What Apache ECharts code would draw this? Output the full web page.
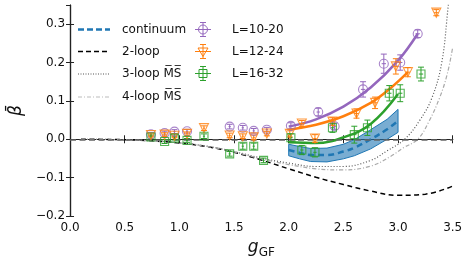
<!DOCTYPE html>
<html><head><meta charset="utf-8">
<script src="https://cdn.jsdelivr.net/npm/echarts@6/dist/echarts.min.js"></script>
<style>html,body{margin:0;padding:0;background:#fff}#c{width:469px;height:264px}</style>
</head><body><div id="c"></div>
<script>
// ---------- data ----------
const xTickLabels = ['0.0','0.5','1.0','1.5','2.0','2.5','3.0','3.5'];
const yTickLabels = ['\u22120.2','\u22120.1','0.0','0.1','0.2','0.3'];

const loop2G = [0.1, 0.25, 0.5, 0.75, 1.0, 1.25, 1.5, 1.75, 2.0, 2.25, 2.5, 2.75, 3.0, 3.25, 3.5];
const loop2B = [0.0, -0.0002, -0.0012, -0.004, -0.0095, -0.019, -0.034, -0.054, -0.077, -0.099, -0.118, -0.135, -0.146, -0.143, -0.122];

const loop3G = [0.1, 0.25, 0.5, 0.75, 1.0, 1.25, 1.5, 1.75, 2.0, 2.25, 2.5, 2.75, 2.9, 3.06, 3.2, 3.31, 3.4, 3.46, 3.5];
const loop3B = [0.0, -0.0002, -0.0012, -0.004, -0.0093, -0.018, -0.032, -0.049, -0.062, -0.071, -0.071, -0.055, -0.030, 0.0, 0.05, 0.108, 0.20, 0.35, 0.45];

const loop4G = [0.1, 0.25, 0.5, 0.75, 1.0, 1.25, 1.5, 1.75, 2.0, 2.25, 2.5, 2.75, 2.93, 3.05, 3.18, 3.28, 3.38, 3.45, 3.5];
const loop4B = [0.0, -0.0002, -0.0012, -0.004, -0.0094, -0.0185, -0.033, -0.051, -0.066, -0.077, -0.080, -0.070, -0.045, -0.022, 0.0, 0.045, 0.108, 0.17, 0.24];

const contG   = [2.0, 2.1, 2.2, 2.35, 2.5, 2.6, 2.75, 2.9, 3.0];
const contMid = [-0.028, -0.035, -0.041, -0.041, -0.032, -0.022, 0.0, 0.026, 0.048];
const contLo  = [-0.043, -0.051, -0.058, -0.059, -0.051, -0.043, -0.025, 0.000, 0.018];
const contHi  = [-0.013, -0.019, -0.024, -0.023, -0.013, -0.001, 0.025, 0.052, 0.078];

const fitAG = [2.0, 2.25, 2.5, 2.75, 3.0, 3.18];
const fitAB = [0.033, 0.052, 0.085, 0.135, 0.205, 0.275];
const fitBG = [2.0, 2.25, 2.5, 2.75, 2.93, 3.09];
const fitBB = [0.025, 0.038, 0.060, 0.095, 0.133, 0.175];
const fitCG = [2.0, 2.25, 2.5, 2.75, 3.0];
const fitCB = [-0.008, -0.010, 0.005, 0.040, 0.118];

// [g, beta, g-error, beta-error]
const ptsA = [
  [0.74, 0.013, 0.01, 0.005], [0.865, 0.016, 0.01, 0.005], [0.955, 0.020, 0.01, 0.005],
  [1.07, 0.021, 0.01, 0.005], [1.46, 0.033, 0.01, 0.006], [1.58, 0.030, 0.01, 0.006],
  [1.68, 0.022, 0.01, 0.006], [1.80, 0.025, 0.01, 0.006], [2.02, 0.035, 0.015, 0.008],
  [2.27, 0.071, 0.015, 0.010], [2.42, 0.034, 0.015, 0.008], [2.68, 0.130, 0.02, 0.020],
  [2.87, 0.197, 0.02, 0.025], [3.02, 0.200, 0.02, 0.020], [3.18, 0.275, 0.02, 0.010]
];
const ptsB = [
  [0.74, 0.011, 0.01, 0.005], [0.865, 0.012, 0.01, 0.005], [0.955, 0.009, 0.01, 0.005],
  [1.07, 0.014, 0.01, 0.005], [1.225, 0.029, 0.01, 0.006], [1.46, 0.010, 0.01, 0.006],
  [1.58, 0.008, 0.01, 0.006], [1.68, 0.005, 0.01, 0.006], [1.80, 0.015, 0.01, 0.006],
  [2.01, 0.014, 0.015, 0.008], [2.12, 0.041, 0.015, 0.008], [2.24, 0.002, 0.015, 0.010],
  [2.40, 0.046, 0.015, 0.010], [2.62, 0.067, 0.02, 0.012], [2.79, 0.095, 0.02, 0.015],
  [2.98, 0.190, 0.02, 0.020], [3.09, 0.175, 0.02, 0.012], [3.35, 0.330, 0.02, 0.008]
];
const ptsC = [
  [0.74, 0.006, 0.01, 0.005], [0.865, -0.006, 0.01, 0.005], [0.955, 0.003, 0.01, 0.005],
  [1.07, -0.003, 0.01, 0.005], [1.225, 0.008, 0.01, 0.006], [1.46, -0.038, 0.01, 0.006],
  [1.58, -0.018, 0.01, 0.008], [1.68, -0.018, 0.01, 0.008], [1.77, -0.055, 0.01, 0.006],
  [2.02, 0.004, 0.015, 0.010], [2.12, -0.028, 0.015, 0.012], [2.24, -0.034, 0.015, 0.012],
  [2.40, 0.030, 0.015, 0.012], [2.60, 0.012, 0.02, 0.022], [2.72, 0.030, 0.02, 0.020],
  [2.92, 0.120, 0.02, 0.020], [3.02, 0.120, 0.02, 0.022], [3.21, 0.170, 0.02, 0.018]
];

const seriesNames = ['L=10-20', 'L=12-24', 'L=16-32'];
const lineNames = ['continuum', '2-loop', '3-loop M\u0305S\u0305', '4-loop M\u0305S\u0305'];

// ---------- styles ----------
const C_A = '#9467bd', C_B = '#ff7f0e', C_C = '#2ca02c', C_BLUE = '#1f77b4';
const FONT = 'DejaVu Sans';
const zip = (a, b) => a.map((v, i) => [v, b[i]]);

function errRender(color) {
  return function (params, api) {
    const x = api.value(0), y = api.value(1), ex = api.value(2), ey = api.value(3);
    const t = api.coord([x, y + ey]), b = api.coord([x, y - ey]);
    const l = api.coord([x - ex, y]), r = api.coord([x + ex, y]);
    const cap = 3, st = { stroke: color, lineWidth: 1 };
    return { type: 'group', children: [
      { type: 'line', shape: { x1: t[0], y1: t[1], x2: b[0], y2: b[1] }, style: st },
      { type: 'line', shape: { x1: t[0] - cap, y1: t[1], x2: t[0] + cap, y2: t[1] }, style: st },
      { type: 'line', shape: { x1: b[0] - cap, y1: b[1], x2: b[0] + cap, y2: b[1] }, style: st },
      { type: 'line', shape: { x1: l[0], y1: l[1], x2: r[0], y2: r[1] }, style: st }
    ]};
  };
}

function bandRender(params, api) {
  const pts = [];
  for (let i = 0; i < contG.length; i++) pts.push(api.coord([contG[i], contHi[i]]));
  for (let i = contG.length - 1; i >= 0; i--) pts.push(api.coord([contG[i], contLo[i]]));
  return { type: 'polygon', shape: { points: pts },
    style: { fill: 'rgba(31,119,180,0.6)', stroke: C_BLUE, lineWidth: 1 } };
}

function errSeries(pts, color, name) {
  return { type: 'custom', name: name, data: pts, renderItem: errRender(color), z: 5,
    encode: { x: 0, y: 1 }, silent: true };
}
function markSeries(pts, color, symbol, size, rot) {
  return { type: 'scatter', data: pts.map(p => [p[0], p[1]]), symbol: symbol, symbolSize: size,
    symbolRotate: rot || 0, z: 6, silent: true,
    itemStyle: { color: 'rgba(0,0,0,0)', borderColor: color, borderWidth: 1.1 } };
}

// ---------- legend (graphic) ----------
const gfx = [];
const rowsL = [29.5, 51.5, 74, 97];
const lineStyles = [
  { stroke: C_BLUE, lineWidth: 2.5, lineDash: [6, 3] },
  { stroke: '#000', lineWidth: 1.5, lineDash: [5, 3] },
  { stroke: '#555', lineWidth: 1.2, lineDash: [1, 1.5] },
  { stroke: '#bbb', lineWidth: 1.2, lineDash: [4, 2, 1, 2] }
];
lineNames.forEach((n, i) => {
  gfx.push({ type: 'line', shape: { x1: 78, y1: rowsL[i], x2: 110, y2: rowsL[i] }, style: lineStyles[i] });
  gfx.push({ type: 'text', x: 122, y: rowsL[i], style: { text: n, font: '12px "' + FONT + '"', fill: '#111', verticalAlign: 'middle' } });
});
const rowsR = [29.5, 51.5, 73.5];
const cols = [C_A, C_B, C_C];
rowsR.forEach((y, i) => {
  const c = cols[i], cx = 203, st = { stroke: c, lineWidth: 1, fill: 'none' };
  gfx.push({ type: 'line', shape: { x1: cx, y1: y - 7, x2: cx, y2: y + 7 }, style: st });
  gfx.push({ type: 'line', shape: { x1: cx - 3, y1: y - 7, x2: cx + 3, y2: y - 7 }, style: st });
  gfx.push({ type: 'line', shape: { x1: cx - 3, y1: y + 7, x2: cx + 3, y2: y + 7 }, style: st });
  gfx.push({ type: 'line', shape: { x1: cx - 8, y1: y, x2: cx + 8, y2: y }, style: st });
  if (i === 0) gfx.push({ type: 'circle', shape: { cx: cx, cy: y, r: 4.5 }, style: st });
  if (i === 1) gfx.push({ type: 'polygon', shape: { points: [[cx - 5, y - 3.5], [cx + 5, y - 3.5], [cx, y + 5]] }, style: st });
  if (i === 2) gfx.push({ type: 'rect', shape: { x: cx - 4, y: y - 4, width: 8, height: 8 }, style: st });
  gfx.push({ type: 'text', x: 232, y: y, style: { text: seriesNames[i], font: '12px "' + FONT + '"', fill: '#111', verticalAlign: 'middle' } });
});

// ---------- chart ----------
const chart = echarts.init(document.getElementById('c'), null, { renderer: 'canvas' });
const axLine = { show: true, lineStyle: { color: '#222', width: 1.2 } };
const tick = { show: true, inside: true, length: 4, lineStyle: { color: '#222', width: 1 } };
chart.setOption({
  animation: false,
  backgroundColor: '#fff',
  grid: { left: 65, right: 16.3, top: 5, bottom: 44.7, containLabel: false },
  graphic: gfx,
  xAxis: [
    { type: 'value', min: 0, max: 3.5, interval: 0.5, position: 'bottom',
      axisLine: axLine, axisTick: tick, splitLine: { show: false },
      axisLabel: { color: '#111', fontSize: 12, fontFamily: FONT, margin: 6,
        formatter: v => xTickLabels[Math.round(v / 0.5)] },
      name: '{g|g}{s|GF}', nameLocation: 'middle', nameGap: 23,
      nameTextStyle: { rich: {
        g: { fontSize: 17, fontStyle: 'italic', fontFamily: FONT, color: '#111', verticalAlign: 'bottom' },
        s: { fontSize: 12, fontFamily: FONT, color: '#111', verticalAlign: 'bottom', padding: [0, 0, -3, 0] } } } },
    { type: 'value', min: 0, max: 3.5, interval: 0.5, position: 'top',
      axisLine: axLine, axisTick: tick, axisLabel: { show: false }, splitLine: { show: false } }
  ],
  yAxis: [
    { type: 'value', min: -0.2, max: 0.35, interval: 0.1, position: 'left',
      axisLine: axLine, axisTick: tick, splitLine: { show: false },
      axisLabel: { color: '#111', fontSize: 12, fontFamily: FONT, margin: 5, showMaxLabel: false,
        formatter: v => { const i = Math.round((v + 0.2) / 0.1); return i >= 0 && i < yTickLabels.length && Math.abs(v + 0.2 - i * 0.1) < 1e-6 ? yTickLabels[i] : ''; } },
      name: '\u03B2\u0304', nameLocation: 'middle', nameGap: 32, nameRotate: 90,
      nameTextStyle: { fontSize: 17, fontStyle: 'italic', fontFamily: FONT, color: '#111' } },
    { type: 'value', min: -0.2, max: 0.35, interval: 0.1, position: 'right',
      axisLine: axLine, axisTick: tick, axisLabel: { show: false }, splitLine: { show: false } }
  ],
  series: [
    { type: 'line', name: 'zero', data: [], z: 3.5, markLine: { silent: true, symbol: 'none', label: { show: false },
        lineStyle: { color: '#666', type: [6, 3.5], width: 1.5 }, data: [{ yAxis: 0 }] } },
    { type: 'line', name: '2-loop', data: zip(loop2G, loop2B), smooth: 0.4, showSymbol: false, z: 2,
      lineStyle: { color: '#000', width: 1.5, type: [5, 3.5] } },
    { type: 'line', name: '3-loop', data: zip(loop3G, loop3B), smooth: 0.4, showSymbol: false, z: 2,
      lineStyle: { color: '#555', width: 1.2, type: [1, 2] } },
    { type: 'line', name: '4-loop', data: zip(loop4G, loop4B), smooth: 0.4, showSymbol: false, z: 2,
      lineStyle: { color: '#aaa', width: 1.2, type: [4, 2, 1, 2] } },
    { type: 'custom', name: 'band', data: [[contG[0], contMid[0]]], renderItem: bandRender, z: 3, silent: true },
    { type: 'line', name: 'continuum', data: zip(contG, contMid), smooth: 0.4, showSymbol: false, z: 4,
      lineStyle: { color: C_BLUE, width: 2.5, type: [6, 4] } },
    { type: 'line', name: 'fitA', data: zip(fitAG, fitAB), smooth: 0.4, showSymbol: false, z: 4, lineStyle: { color: C_A, width: 2.5 } },
    { type: 'line', name: 'fitB', data: zip(fitBG, fitBB), smooth: 0.4, showSymbol: false, z: 4, lineStyle: { color: C_B, width: 2.5 } },
    { type: 'line', name: 'fitC', data: zip(fitCG, fitCB), smooth: 0.4, showSymbol: false, z: 4, lineStyle: { color: C_C, width: 2.5 } },
    errSeries(ptsA, C_A, seriesNames[0]), markSeries(ptsA, C_A, 'circle', 9),
    errSeries(ptsB, C_B, seriesNames[1]), markSeries(ptsB, C_B, 'triangle', 9, 180),
    errSeries(ptsC, C_C, seriesNames[2]), markSeries(ptsC, C_C, 'rect', 8)
  ]
});
</script>
</body></html>
